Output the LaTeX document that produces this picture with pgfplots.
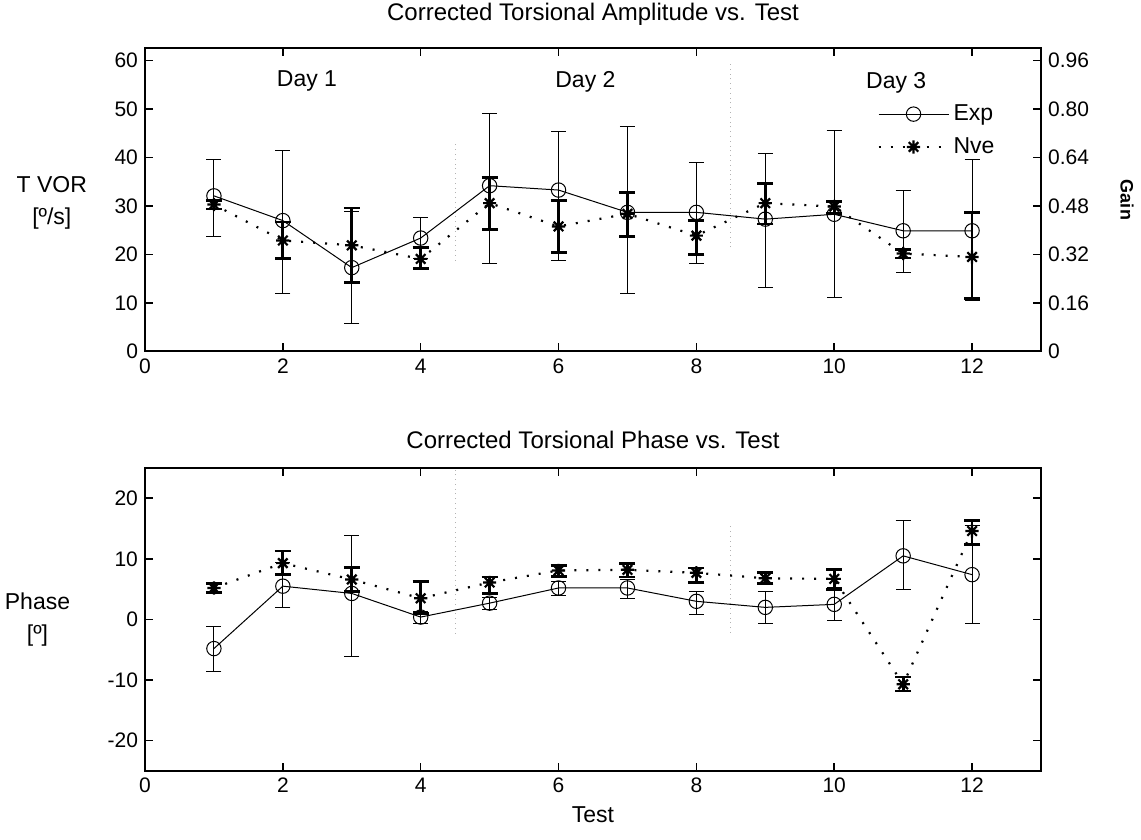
\documentclass[border=0pt]{standalone}
\usepackage{fontspec}
\setmainfont{Liberation Sans}
\usepackage{pgfplots}
\pgfplotsset{compat=1.18}
\usepackage{pgfplotstable}

\pgfdeclareplotmark{matstar}{%
  \pgfpathmoveto{\pgfqpoint{-\pgfplotmarksize}{0pt}}\pgfpathlineto{\pgfqpoint{\pgfplotmarksize}{0pt}}%
  \pgfpathmoveto{\pgfqpoint{0pt}{-\pgfplotmarksize}}\pgfpathlineto{\pgfqpoint{0pt}{\pgfplotmarksize}}%
  \pgfpathmoveto{\pgfqpoint{-0.72\pgfplotmarksize}{-0.72\pgfplotmarksize}}\pgfpathlineto{\pgfqpoint{0.72\pgfplotmarksize}{0.72\pgfplotmarksize}}%
  \pgfpathmoveto{\pgfqpoint{-0.72\pgfplotmarksize}{0.72\pgfplotmarksize}}\pgfpathlineto{\pgfqpoint{0.72\pgfplotmarksize}{-0.72\pgfplotmarksize}}%
  \pgfusepathqstroke}

\pgfplotstableread{
x y ep em
1 32.1 7.6 8.3
2 27.0 14.5 15.0
3 17.3 11.5 11.5
4 23.4 4.3 4.3
5 34.2 14.8 16.1
6 33.3 12.0 14.5
7 28.7 17.8 16.7
8 28.7 10.3 10.6
9 27.3 13.5 14.0
10 28.3 17.2 17.2
11 24.9 8.4 8.6
12 24.9 14.6 14.3
}\ampexp

\pgfplotstableread{
x y ep em
1 30.3 0.8 0.9
2 22.9 3.8 3.8
3 21.9 7.7 7.6
4 19.1 2.4 1.9
5 30.6 5.3 5.4
6 25.8 5.3 5.3
7 28.4 4.4 4.6
8 23.9 3.2 3.9
9 30.6 4.1 4.3
10 29.9 1.1 1.4
11 20.2 0.9 0.9
12 19.5 9.1 8.5
}\ampnve

\pgfplotstableread{
x y ep em
1 -4.8 3.6 3.7
2 5.5 3.9 3.6
3 4.3 9.6 10.4
4 0.4 1.0 1.0
5 2.7 1.0 1.0
6 5.2 1.1 1.2
7 5.2 1.4 1.8
8 3.0 1.6 2.2
9 2.0 2.6 2.6
10 2.5 2.7 2.7
11 10.5 5.8 5.5
12 7.4 8.1 8.1
}\phaexp

\pgfplotstableread{
x y ep em
1 5.2 0.7 0.7
2 9.3 2.0 1.9
3 6.6 2.0 2.0
4 3.5 2.8 2.5
5 6.1 0.9 1.8
6 8.1 0.8 1.0
7 8.2 1.0 1.2
8 7.7 0.8 1.6
9 6.8 0.9 0.8
10 6.7 1.5 1.7
11 -10.7 1.2 1.1
12 14.6 1.7 2.2
}\phanve

\begin{document}
\begin{tikzpicture}
\useasboundingbox (-72.5pt,-34.5pt) rectangle (498pt,385.5pt);

\pgfplotsset{
  every axis/.append style={
    scale only axis, width=448pt, height=151.5pt,
    xmin=0, xmax=13,
    font=\fontsize{10.5}{12}\selectfont,
    tick align=inside, major tick length=4pt,
    axis line style={line width=1pt},
    every tick/.style={black, line width=0.8pt},
    title style={font=\fontsize{12}{14}\selectfont},
  },
  expstyle/.style={black, line width=0.5pt, mark=o, mark size=3.6pt,
    mark options={solid, line width=0.5pt},
    error bars/.cd, y dir=both, y explicit,
    error bar style={line width=0.5pt, solid},
    error mark options={rotate=90, mark size=3.75pt, line width=0.5pt, solid}},
  nvestyle/.style={black, line width=1.1pt, dash pattern=on 1pt off 5pt, mark=matstar, mark size=3.3pt,
    mark options={solid, line width=1.1pt},
    error bars/.cd, y dir=both, y explicit,
    error bar style={line width=1.4pt, solid},
    error mark options={rotate=90, mark size=4pt, line width=1.4pt, solid}},
  sep/.style={gray!60, dotted, line width=0.4pt, forget plot, no marks},
}

% ---------- top: amplitude ----------
\begin{axis}[
  at={(0,209.75pt)}, anchor=south west,
  ymin=0, ymax=62.5,
  ytick={0,10,20,30,40,50,60}, yticklabels={0,10,20,30,40,50,60},
  xtick={0,2,4,6,8,10,12}, xticklabels={0,2,4,6,8,10,12},
  ytick pos=left,
  title={Corrected Torsional Amplitude vs. Test},
  title style={yshift=2pt},
  ylabel={T VOR\\{[º/s]}},
  ylabel style={rotate=-90, align=center, font=\fontsize{11.5}{16}\selectfont,
    at={(axis description cs:-0.104,0.49)}, anchor=center},
  legend style={at={(0.817,0.829)}, anchor=north west, draw=none, fill=none,
    inner sep=0pt, row sep=3pt, font=\fontsize{11.5}{13}\selectfont},
  legend cell align=left,
  legend image code/.code={\draw[mark repeat=2,mark phase=2] plot coordinates {(0pt,0pt) (17.5pt,0pt) (35pt,0pt)};},
]
\addplot[sep] coordinates {(4.5,18.8) (4.5,43.4)};
\addplot[sep] coordinates {(8.5,21.5) (8.5,59.9)};
\addplot[expstyle] table[x=x, y=y, y error plus=ep, y error minus=em] {\ampexp};
\addlegendentry{Exp}
\addplot[nvestyle] table[x=x, y=y, y error plus=ep, y error minus=em] {\ampnve};
\addlegendentry{Nve}
\node[font=\fontsize{11.5}{13}\selectfont] at (axis cs:2.35,55.7) {Day 1};
\node[font=\fontsize{11.5}{13}\selectfont] at (axis cs:6.39,55.7) {Day 2};
\node[font=\fontsize{11.5}{13}\selectfont] at (axis cs:10.9,55.5) {Day 3};
\end{axis}

\begin{axis}[
  at={(0,209.75pt)}, anchor=south west,
  ymin=0, ymax=1,
  axis y line*=right, axis x line=none,
  tick align=inside,
  ytick={0,0.16,0.32,0.48,0.64,0.80,0.96},
  yticklabels={0,0.16,0.32,0.48,0.64,0.80,0.96},
  ylabel={Gain},
  ylabel style={rotate=180, font=\bfseries\fontsize{9}{10}\selectfont,
    at={(axis description cs:1.096,0.5)}, anchor=center},
]
\addplot[draw=none, forget plot] coordinates {(0,0) (13,1)};
\end{axis}

% ---------- bottom: phase ----------
\begin{axis}[
  at={(0,0)}, anchor=south west,
  ymin=-25, ymax=25,
  ytick={-20,-10,0,10,20}, yticklabels={-20,-10,0,10,20},
  xtick={0,2,4,6,8,10,12}, xticklabels={0,2,4,6,8,10,12},
  title={Corrected Torsional Phase vs. Test},
  title style={yshift=0pt},
  xlabel={Test},
  xlabel style={font=\fontsize{11.5}{13}\selectfont},
  ylabel={Phase\\{[º]}},
  ylabel style={rotate=-90, align=center, font=\fontsize{11.5}{16}\selectfont,
    at={(axis description cs:-0.12,0.5)}, anchor=center},
]
\addplot[sep] coordinates {(4.5,-2.3) (4.5,24.7)};
\addplot[sep] coordinates {(8.5,-2.2) (8.5,15.5)};
\addplot[expstyle] table[x=x, y=y, y error plus=ep, y error minus=em] {\phaexp};
\addplot[nvestyle] table[x=x, y=y, y error plus=ep, y error minus=em] {\phanve};
\end{axis}
\end{tikzpicture}
\end{document}
